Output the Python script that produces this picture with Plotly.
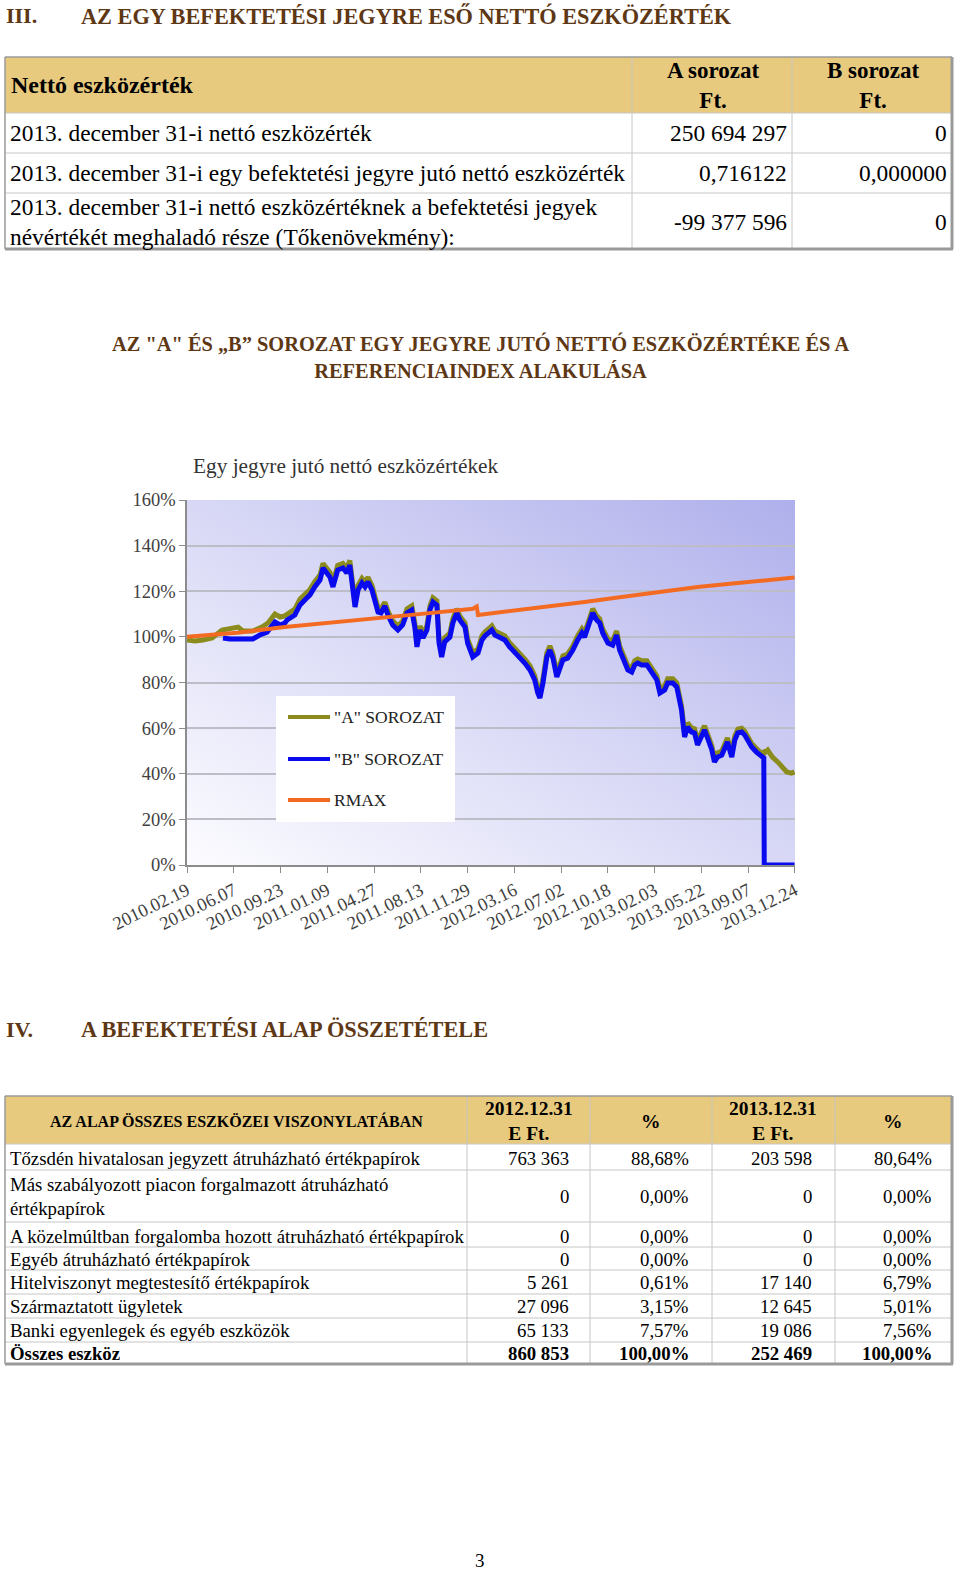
import base64
import plotly.graph_objects as go

W, H = 960, 1572
SERIF = "Liberation Serif, DejaVu Serif, serif"
BROWN = "#5E3714"

# ---------------- data: table 1 ----------------
t1_header = ["Nettó eszközérték", "A sorozat<br>Ft.", "B sorozat<br>Ft."]
t1_labels = ["2013. december 31-i nettó eszközérték",
             "2013. december 31-i egy befektetési jegyre jutó nettó eszközérték",
             "2013. december 31-i nettó eszközértéknek a befektetési jegyek<br>névértékét meghaladó része (Tőkenövekmény):"]
t1_a = ["250 694 297", "0,716122", "-99 377 596"]
t1_b = ["0", "0,000000", "0"]

# ---------------- data: chart ----------------
dates_a = ["2010-02-19", "2010-03-09", "2010-03-28", "2010-04-18", "2010-05-11", "2010-05-29", "2010-06-17",
           "2010-06-28", "2010-07-21", "2010-08-11", "2010-08-25", "2010-09-10", "2010-09-22", "2010-10-03",
           "2010-10-08", "2010-10-26", "2010-11-07", "2010-11-18", "2010-11-30", "2010-12-11", "2010-12-23",
           "2010-12-30", "2011-01-08", "2011-01-15", "2011-01-22", "2011-01-27", "2011-02-02", "2011-02-14",
           "2011-02-23", "2011-03-02", "2011-03-07", "2011-03-14", "2011-03-21", "2011-03-30", "2011-04-06",
           "2011-04-13", "2011-04-22", "2011-04-29", "2011-05-06", "2011-05-13", "2011-05-22", "2011-05-29",
           "2011-06-09", "2011-06-21", "2011-07-02", "2011-07-12", "2011-07-23", "2011-07-30", "2011-08-04",
           "2011-08-11", "2011-08-18", "2011-08-27", "2011-09-03", "2011-09-10", "2011-09-19", "2011-09-24",
           "2011-09-30", "2011-10-07", "2011-10-19", "2011-10-26", "2011-11-04", "2011-11-11", "2011-11-23",
           "2011-11-29", "2011-12-11", "2011-12-23", "2012-01-01", "2012-01-08", "2012-01-24", "2012-01-31",
           "2012-02-11", "2012-02-23", "2012-03-05", "2012-03-17", "2012-03-28", "2012-04-09", "2012-04-21",
           "2012-05-02", "2012-05-09", "2012-05-14", "2012-05-21", "2012-05-30", "2012-06-06", "2012-06-13",
           "2012-06-22", "2012-06-29", "2012-07-06", "2012-07-17", "2012-07-29", "2012-08-09", "2012-08-19",
           "2012-08-25", "2012-09-01", "2012-09-13", "2012-09-22", "2012-09-29", "2012-10-06", "2012-10-18",
           "2012-10-29", "2012-11-07", "2012-11-14", "2012-11-26", "2012-12-03", "2012-12-12", "2012-12-19",
           "2012-12-26", "2013-01-04", "2013-01-16", "2013-01-27", "2013-02-08", "2013-02-15", "2013-02-26",
           "2013-03-05", "2013-03-17", "2013-03-26", "2013-04-02", "2013-04-06", "2013-04-13", "2013-04-20",
           "2013-04-29", "2013-05-06", "2013-05-13", "2013-05-22", "2013-05-29", "2013-06-05", "2013-06-15",
           "2013-06-21", "2013-06-28", "2013-07-08", "2013-07-15", "2013-07-21", "2013-07-31", "2013-08-07",
           "2013-08-14", "2013-08-23", "2013-08-30", "2013-09-06", "2013-09-15", "2013-09-26", "2013-10-08",
           "2013-10-13", "2013-10-15", "2013-10-22", "2013-11-02", "2013-11-14", "2013-11-23", "2013-12-05",
           "2013-12-16", "2013-12-23"]
vals_a = [98.6, 98.2, 98.6, 99.5, 103.0, 103.5, 104.3,
          102.6, 102.6, 104.3, 106.1, 110.0, 108.7, 109.2,
          110.0, 112.2, 116.6, 118.6, 120.8, 124.2, 127.1,
          132.2, 130.4, 128.2, 124.0, 128.2, 131.3, 132.2,
          130.0, 133.5, 126.9, 115.0, 122.6, 125.6, 124.0,
          126.1, 122.6, 118.2, 112.8, 112.4, 115.2, 111.3,
          107.0, 104.8, 107.0, 112.3, 113.6, 106.1, 97.4,
          104.8, 101.3, 104.8, 113.6, 117.1, 115.8, 99.1,
          93.0, 99.6, 101.7, 108.0, 112.3, 109.2, 106.1,
          99.1, 93.0, 94.7, 100.4, 102.2, 104.8, 102.6,
          101.3, 100.4, 97.4, 95.2, 92.5, 90.3, 87.3,
          82.9, 77.2, 75.0, 81.6, 93.0, 96.0, 92.5,
          84.2, 88.6, 91.7, 92.5, 96.0, 100.4, 103.5,
          101.7, 106.1, 112.3, 109.2, 107.9, 103.5, 99.1,
          98.2, 102.6, 96.0, 90.3, 87.3, 86.4, 89.5,
          90.3, 89.5, 89.5, 86.4, 82.9, 77.2, 78.5,
          81.6, 81.6, 79.8, 74.6, 69.7, 57.9, 62.3,
          60.1, 59.7, 54.4, 57.5, 61.0, 57.5, 52.2,
          47.0, 49.1, 50.0, 53.5, 55.7, 49.1, 56.6,
          59.5, 59.9, 58.6, 56.4, 53.3, 51.1, 48.9,
          49.5, 49.1, 50.4, 47.3, 45.2, 43.0, 40.8,
          40.3, 40.8]

dates_b = ["2010-05-13", "2010-05-29", "2010-06-21", "2010-07-21", "2010-08-06", "2010-08-23", "2010-09-10",
           "2010-09-22", "2010-10-03", "2010-10-08", "2010-10-26", "2010-11-07", "2010-11-18", "2010-11-30",
           "2010-12-11", "2010-12-23", "2010-12-30", "2011-01-08", "2011-01-15", "2011-01-22", "2011-01-27",
           "2011-02-02", "2011-02-14", "2011-02-23", "2011-03-02", "2011-03-07", "2011-03-14", "2011-03-21",
           "2011-03-30", "2011-04-06", "2011-04-13", "2011-04-22", "2011-04-29", "2011-05-06", "2011-05-13",
           "2011-05-22", "2011-05-29", "2011-06-09", "2011-06-21", "2011-07-02", "2011-07-12", "2011-07-23",
           "2011-07-30", "2011-08-04", "2011-08-11", "2011-08-18", "2011-08-27", "2011-09-03", "2011-09-10",
           "2011-09-19", "2011-09-24", "2011-09-30", "2011-10-07", "2011-10-19", "2011-10-26", "2011-11-04",
           "2011-11-11", "2011-11-23", "2011-11-29", "2011-12-11", "2011-12-23", "2012-01-01", "2012-01-08",
           "2012-01-24", "2012-01-31", "2012-02-11", "2012-02-23", "2012-03-05", "2012-03-17", "2012-03-28",
           "2012-04-09", "2012-04-21", "2012-05-02", "2012-05-09", "2012-05-14", "2012-05-21", "2012-05-30",
           "2012-06-06", "2012-06-13", "2012-06-22", "2012-06-29", "2012-07-06", "2012-07-17", "2012-07-29",
           "2012-08-09", "2012-08-19", "2012-08-25", "2012-09-01", "2012-09-13", "2012-09-22", "2012-09-29",
           "2012-10-06", "2012-10-18", "2012-10-29", "2012-11-07", "2012-11-14", "2012-11-26", "2012-12-03",
           "2012-12-12", "2012-12-19", "2012-12-26", "2013-01-04", "2013-01-16", "2013-01-27", "2013-02-08",
           "2013-02-15", "2013-02-26", "2013-03-05", "2013-03-17", "2013-03-26", "2013-04-02", "2013-04-06",
           "2013-04-13", "2013-04-20", "2013-04-29", "2013-05-06", "2013-05-13", "2013-05-22", "2013-05-29",
           "2013-06-05", "2013-06-15", "2013-06-21", "2013-06-28", "2013-07-08", "2013-07-15", "2013-07-21",
           "2013-07-31", "2013-08-07", "2013-08-14", "2013-08-23", "2013-08-30", "2013-09-06", "2013-09-15",
           "2013-09-26", "2013-10-08", "2013-10-13", "2013-10-14", "2013-12-23"]
vals_b = [99.5, 99.1, 99.1, 99.1, 100.8, 102.1, 106.5,
          105.2, 106.1, 107.4, 109.6, 114.0, 116.2, 118.4,
          121.9, 124.9, 130.2, 128.4, 126.2, 121.9, 126.2,
          129.3, 130.2, 128.0, 131.5, 124.9, 113.1, 120.6,
          123.6, 121.9, 124.1, 120.6, 116.2, 110.9, 110.5,
          113.5, 109.6, 105.2, 103.0, 105.2, 110.5, 111.8,
          104.3, 95.6, 103.0, 99.5, 103.0, 111.8, 115.3,
          114.0, 97.3, 91.2, 97.8, 99.9, 106.1, 110.5,
          107.4, 104.3, 97.3, 91.2, 92.9, 98.6, 100.4,
          103.0, 100.8, 99.5, 98.6, 95.6, 93.4, 90.7,
          88.5, 85.5, 81.1, 75.4, 73.2, 79.8, 91.2,
          94.2, 90.7, 82.4, 86.8, 89.9, 90.7, 94.2,
          98.6, 101.7, 99.9, 104.3, 110.5, 107.4, 106.1,
          101.7, 97.3, 96.4, 100.8, 94.2, 88.5, 85.5,
          84.6, 87.7, 88.5, 87.7, 87.7, 84.6, 81.1,
          75.4, 76.7, 79.8, 79.8, 78.0, 72.8, 67.9,
          56.1, 60.5, 58.3, 57.9, 52.6, 55.7, 59.2,
          55.7, 50.4, 45.2, 47.3, 48.2, 51.7, 53.9,
          47.3, 54.8, 57.9, 58.3, 57.0, 54.8, 51.7,
          49.5, 47.3, 46.9, 0.0, 0.0]

dates_r = ["2010-02-19", "2010-06-21", "2010-10-03", "2011-01-15", "2011-05-06", "2011-08-27", "2011-12-11",
           "2011-12-20", "2011-12-23", "2012-03-05", "2012-06-13", "2012-08-25", "2012-11-14", "2013-02-15",
           "2013-04-20", "2013-05-13", "2013-08-14", "2013-10-22", "2013-12-23"]
vals_r = [100.0, 101.9, 104.3, 106.1, 108.3, 110.3, 112.3,
          113.3, 109.6, 111.2, 113.4, 115.3, 117.4, 119.6,
          121.0, 121.9, 123.6, 124.9, 126.0]

series_names = ['"A" SOROZAT', '"B" SOROZAT', 'RMAX']
series_colors = ["#8C8C1E", "#0A0AEE", "#F36B22"]
y_ticks = [0, 20, 40, 60, 80, 100, 120, 140, 160]

# ---------------- data: table 2 ----------------
t2_header = ["AZ ALAP ÖSSZES ESZKÖZEI VISZONYLATÁBAN", "2012.12.31<br>E Ft.", "%", "2013.12.31<br>E Ft.", "%"]
t2_labels = ["Tőzsdén hivatalosan jegyzett átruházható értékpapírok",
             "Más szabályozott piacon forgalmazott átruházható<br>értékpapírok",
             "A közelmúltban forgalomba hozott átruházható értékpapírok",
             "Egyéb átruházható értékpapírok",
             "Hitelviszonyt megtestesítő értékpapírok",
             "Származtatott ügyletek",
             "Banki egyenlegek és egyéb eszközök",
             "Összes eszköz"]
t2_v2012 = ["763 363", "0", "0", "0", "5 261", "27 096", "65 133", "860 853"]
t2_p2012 = ["88,68%", "0,00%", "0,00%", "0,00%", "0,61%", "3,15%", "7,57%", "100,00%"]
t2_v2013 = ["203 598", "0", "0", "0", "17 140", "12 645", "19 086", "252 469"]
t2_p2013 = ["80,64%", "0,00%", "0,00%", "0,00%", "6,79%", "5,01%", "7,56%", "100,00%"]


def px(x):
    return x / W


def py(y):
    return 1 - y / H


fig = go.Figure()

for xs, ys, nm, col, wd in [(dates_a, vals_a, series_names[0], series_colors[0], 5),
                            (dates_b, vals_b, series_names[1], series_colors[1], 5),
                            (dates_r, vals_r, series_names[2], series_colors[2], 4)]:
    fig.add_trace(go.Scatter(x=xs, y=ys, mode="lines", name=nm, showlegend=False,
                             line=dict(color=col, width=wd), hoverinfo="skip"))

shapes = []
annotations = []


def txt(x, y, s, size, anchor="left", color="#000000", bold=False, yanchor="middle"):
    if bold:
        s = "<b>" + s.replace("<br>", "</b><br><b>") + "</b>"
    annotations.append(dict(x=px(x), y=py(y), xref="paper", yref="paper", text=s, showarrow=False,
                            xanchor=anchor, yanchor=yanchor, align=anchor if anchor != "middle" else "center",
                            borderpad=0, font=dict(size=size, color=color, family=SERIF)))


def rect(x0, y0, x1, y1, fill, layer="below"):
    shapes.append(dict(type="rect", xref="paper", yref="paper", x0=px(x0), x1=px(x1), y0=py(y1), y1=py(y0),
                       fillcolor=fill, line=dict(width=0), layer=layer))


def hline(x0, x1, y, color, w=1):
    shapes.append(dict(type="line", xref="paper", yref="paper", x0=px(x0), x1=px(x1), y0=py(y), y1=py(y),
                       line=dict(color=color, width=w), layer="below"))


def vline(x, y0, y1, color, w=1):
    shapes.append(dict(type="line", xref="paper", yref="paper", x0=px(x), x1=px(x), y0=py(y0), y1=py(y1),
                       line=dict(color=color, width=w), layer="below"))


GRID = "#C6C6C6"
OUT = "#9A9A9A"

# ---------------- heading III + table 1 ----------------
txt(5, 16, "III.", 22, color=BROWN, bold=True)
txt(80, 16, "AZ EGY BEFEKTETÉSI JEGYRE ESŐ NETTÓ ESZKÖZÉRTÉK", 22.3, color=BROWN, bold=True)

c1 = [5, 632, 792, 952]
r1 = [57, 113, 153, 193, 249]
rect(c1[0], r1[0], c1[-1], r1[1], "#E7CA7E")
for yy in r1[1:-1]:
    hline(c1[0], c1[-1], yy, GRID)
for xx in c1[1:-1]:
    vline(xx, r1[0], r1[-1], GRID)
hline(c1[0], c1[-1], r1[0], OUT, 1.5)
vline(c1[0], r1[0], r1[-1], OUT, 1.5)
hline(c1[0], c1[-1] + 1, r1[-1], OUT, 3)
vline(c1[-1], r1[0], r1[-1], OUT, 3)

txt(10, 85, t1_header[0], 24, bold=True)
txt(713, 86, t1_header[1], 23, anchor="center", bold=True)
txt(873, 86, t1_header[2], 23, anchor="center", bold=True)
row_mid1 = [133, 173, 222]
for i in range(3):
    txt(9, row_mid1[i], t1_labels[i], 23.4)
    txt(788, row_mid1[i], t1_a[i], 23.4, anchor="right")
    txt(948, row_mid1[i], t1_b[i], 23.4, anchor="right")

# ---------------- chart titles ----------------
txt(480, 357, 'AZ "A" ÉS „B” SOROZAT EGY JEGYRE JUTÓ NETTÓ ESZKÖZÉRTÉKE ÉS A<br>REFERENCIAINDEX ALAKULÁSA',
    20.4, anchor="center", color=BROWN, bold=True)
txt(192, 466, "Egy jegyre jutó nettó eszközértékek", 21.3, color="#333333")

# plot-area gradient background
svg = ('<svg xmlns="http://www.w3.org/2000/svg" width="100" height="100" viewBox="0 0 100 100" '
       'preserveAspectRatio="none"><defs><linearGradient id="g" x1="0" y1="1" x2="1" y2="0">'
       '<stop offset="0" stop-color="#FCFCFF"/><stop offset="0.5" stop-color="#D8D8F6"/>'
       '<stop offset="1" stop-color="#AFAFEC"/></linearGradient></defs>'
       '<rect width="100" height="100" fill="url(#g)"/></svg>')
src = "data:image/svg+xml;base64," + base64.b64encode(svg.encode()).decode()
images = [dict(source=src, xref="paper", yref="paper", x=px(187), y=py(500), sizex=(795 - 187) / W,
               sizey=(865 - 500) / H, xanchor="left", yanchor="top", sizing="stretch", layer="below")]

# legend box (drawn manually)
rect(276, 696, 455, 822, "#FFFFFF", layer="above")
leg_y = [717, 759, 800]
for i in range(3):
    shapes.append(dict(type="line", xref="paper", yref="paper", x0=px(288), x1=px(330), y0=py(leg_y[i]),
                       y1=py(leg_y[i]), line=dict(color=series_colors[i], width=4), layer="above"))
    txt(333, leg_y[i], series_names[i], 17.5, color="#222222")

# ---------------- heading IV + table 2 ----------------
txt(5, 1029, "IV.", 22, color=BROWN, bold=True)
txt(80, 1029, "A BEFEKTETÉSI ALAP ÖSSZETÉTELE", 22.3, color=BROWN, bold=True)

c2 = [5, 467, 590, 712, 835, 952]
r2 = [1096, 1144, 1170, 1222, 1247, 1270, 1294, 1318, 1342, 1364]
rect(c2[0], r2[0], c2[-1], r2[1], "#E7CA7E")
for yy in r2[1:-1]:
    hline(c2[0], c2[-1], yy, GRID)
for xx in c2[1:-1]:
    vline(xx, r2[0], r2[-1], GRID)
hline(c2[0], c2[-1], r2[0], OUT, 1.5)
vline(c2[0], r2[0], r2[-1], OUT, 1.5)
hline(c2[0], c2[-1] + 1, r2[-1], OUT, 3)
vline(c2[-1], r2[0], r2[-1], OUT, 3)

hdr_cx = [236, 529, 651, 773, 893]
hdr_sz = [16, 19.5, 19.5, 19.5, 19.5]
for i in range(5):
    txt(hdr_cx[i], 1121, t2_header[i], hdr_sz[i], anchor="center", bold=True)
row_mid2 = [1158, 1196, 1236, 1259, 1282, 1306, 1330, 1353]
for i in range(8):
    b = i == 7
    txt(9, row_mid2[i], t2_labels[i], 18.8, bold=b)
    txt(570, row_mid2[i], t2_v2012[i], 18.8, anchor="right", bold=b)
    txt(690, row_mid2[i], t2_p2012[i], 18.8, anchor="right", bold=b)
    txt(813, row_mid2[i], t2_v2013[i], 18.8, anchor="right", bold=b)
    txt(933, row_mid2[i], t2_p2013[i], 18.8, anchor="right", bold=b)

txt(480, 1560, "3", 19, anchor="center")

fig.update_layout(
    width=W, height=H, margin=dict(l=0, r=0, t=0, b=0, pad=0), autosize=False,
    paper_bgcolor="#FFFFFF", plot_bgcolor="rgba(0,0,0,0)",
    showlegend=False, shapes=shapes, annotations=annotations, images=images,
    xaxis=dict(domain=[px(187), px(795)], type="date", automargin=False,
               range=["2010-02-18 23:00", "2013-12-24 01:00"],
               tick0="2010-02-19", dtick=108 * 86400000, tickformat="%Y.%m.%d",
               tickangle=-26, ticks="outside", ticklen=6, tickcolor="#8C8C8C",
               showline=True, linecolor="#8C8C8C", linewidth=1.5, showgrid=False, zeroline=False,
               tickfont=dict(family=SERIF, size=18.4, color="#404040")),
    yaxis=dict(domain=[py(865), py(500)], range=[0, 160], tickvals=y_ticks, automargin=False,
               ticktext=[f"{v}%" for v in y_ticks],
               ticks="outside", ticklen=6, tickcolor="#8C8C8C",
               showline=True, linecolor="#8C8C8C", linewidth=1.5,
               showgrid=True, gridcolor="#BDBDC8", gridwidth=1.5, zeroline=False,
               tickfont=dict(family=SERIF, size=18.5, color="#404040")),
)

fig.write_html("out.html", config={"displayModeBar": False},
               post_script="document.body.style.margin='0';document.body.style.overflow='hidden';")
